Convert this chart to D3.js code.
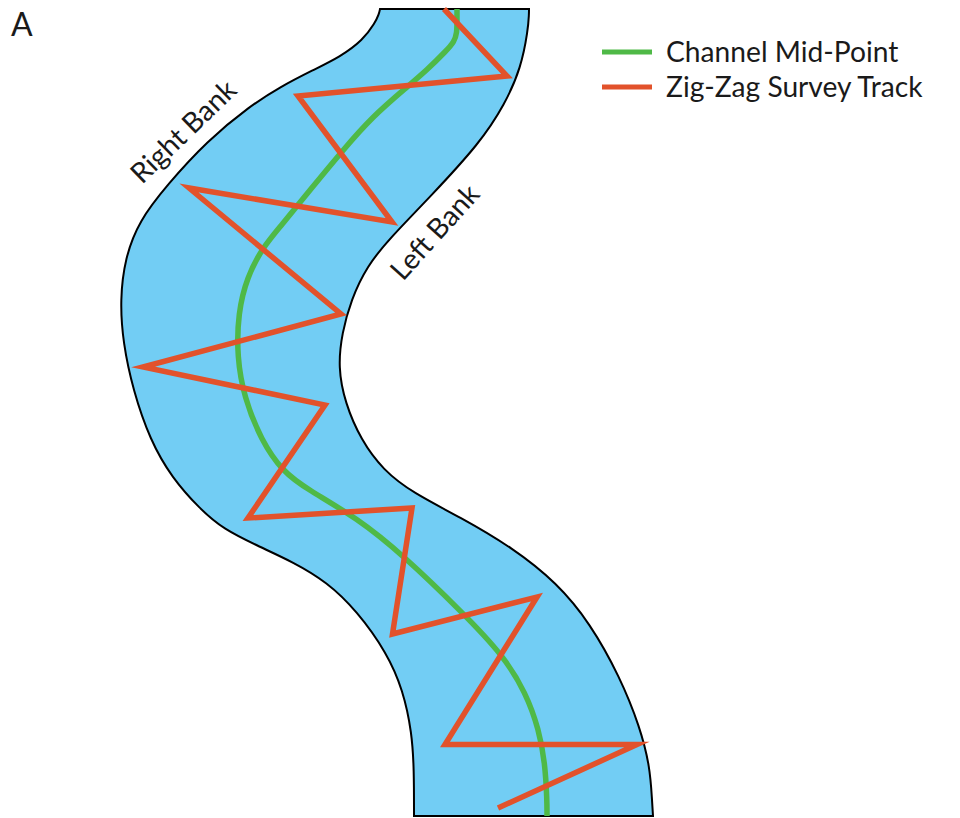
<!DOCTYPE html>
<html>
<head>
<meta charset="utf-8">
<script src="https://cdn.jsdelivr.net/npm/d3@7"></script>
<style>
  html, body { margin: 0; padding: 0; background: #fff; }
  text { font-family: "Lato", sans-serif; fill: #1a1a1a; }
</style>
</head>
<body>
<div id="chart-container"></div>
<script>
// Values, [across, along]
const rightBank = [[380,9],[379,14],[375,23],[363,40],[340,57],[313,70],[280,87],[250,106],[207,141],[167,185],[139,221],[125,258],[120,300],[123,343],[133,390],[150,440],[172,478],[200,509],[223,529],[260,547],[293,562],[327,582],[357,611],[387,653],[403,690],[412,733],[414,770],[414,816]];
const leftBank = [[653,816],[652,800],[650,767],[640,727],[620,677],[590,623],[557,583],[513,548],[460,517],[413,493],[383,470],[361,440],[345,403],[338,367],[342,333],[351,300],[367,266],[390,238],[430,197],[480,143],[505,104],[521,68],[528,30],[529,14],[529,9]];
const midPoint = [[457,9],[457,20],[457,33],[454,42],[447,50],[427,70],[407,87],[372,117],[343,150],[310,190],[280,227],[263,247],[247,277],[238,313],[237,357],[244,397],[261,440],[283,472],[307,489],[357,518],[403,555],[463,613],[503,655],[526,693],[539,730],[545,763],[547,800],[547,816]];
const surveyTrack = [[444,9],[507,76],[298,96],[392,222],[189,188],[341,314],[143,367],[325,405],[248,518],[412,508],[392.5,634],[537,597],[445,744.5],[637,744.5],[498,808]];
const legendLabels = ["Channel Mid-Point", "Zig-Zag Survey Track"];
const panelLabel = "A";

const width = 960;
const height = 818;

// Scales
const x = d3.scaleLinear().domain([0, 960]).range([0, width]);
const y = d3.scaleLinear().domain([0, 818]).range([0, height]);

const svg = d3.select("#chart-container")
    .append("svg")
    .attr("width", width)
    .attr("height", height)
    .style("display", "block");

const curved = d3.line().x(d => x(d[0])).y(d => y(d[1])).curve(d3.curveBasis);
const straight = d3.line().x(d => x(d[0])).y(d => y(d[1]));

// Channel outline: right bank down, across the bottom, left bank up
const channelPath = curved(rightBank) + "L" + curved(leftBank).slice(1) + "Z";
svg.append("path")
    .attr("d", channelPath)
    .attr("fill", "#72cdf4")
    .attr("stroke", "#000")
    .attr("stroke-width", 2);

svg.append("path")
    .datum(midPoint)
    .attr("fill", "none")
    .attr("stroke", "#4fb947")
    .attr("stroke-width", 5.5)
    .attr("d", curved);

svg.append("path")
    .datum(surveyTrack)
    .attr("fill", "none")
    .attr("stroke", "#e2522b")
    .attr("stroke-width", 5.5)
    .attr("stroke-linejoin", "miter")
    .attr("stroke-miterlimit", 10)
    .attr("d", straight);

// Legend
const legendColors = ["#4fb947", "#e2522b"];
const legendY = d3.scalePoint().domain(legendLabels).range([52, 87]);
const legend = svg.selectAll(".legend").data(legendLabels).enter().append("g").attr("class", "legend");
legend.append("line")
    .attr("x1", 602).attr("x2", 652)
    .attr("y1", d => legendY(d)).attr("y2", d => legendY(d))
    .attr("stroke", (d, i) => legendColors[i])
    .attr("stroke-width", 5);
legend.append("text")
    .attr("x", 666)
    .attr("y", d => legendY(d) + 9.5)
    .attr("font-size", 28.2)
    .text(d => d);

// Other labels
svg.append("text").attr("x", 11).attr("y", 36).attr("font-size", 32).text(panelLabel);
svg.append("text")
    .attr("transform", "translate(142,185) rotate(-44)")
    .attr("font-size", 28.2)
    .text("Right Bank");
svg.append("text")
    .attr("transform", "translate(403,282) rotate(-48)")
    .attr("font-size", 28.2)
    .text("Left Bank");
</script>
</body>
</html>
